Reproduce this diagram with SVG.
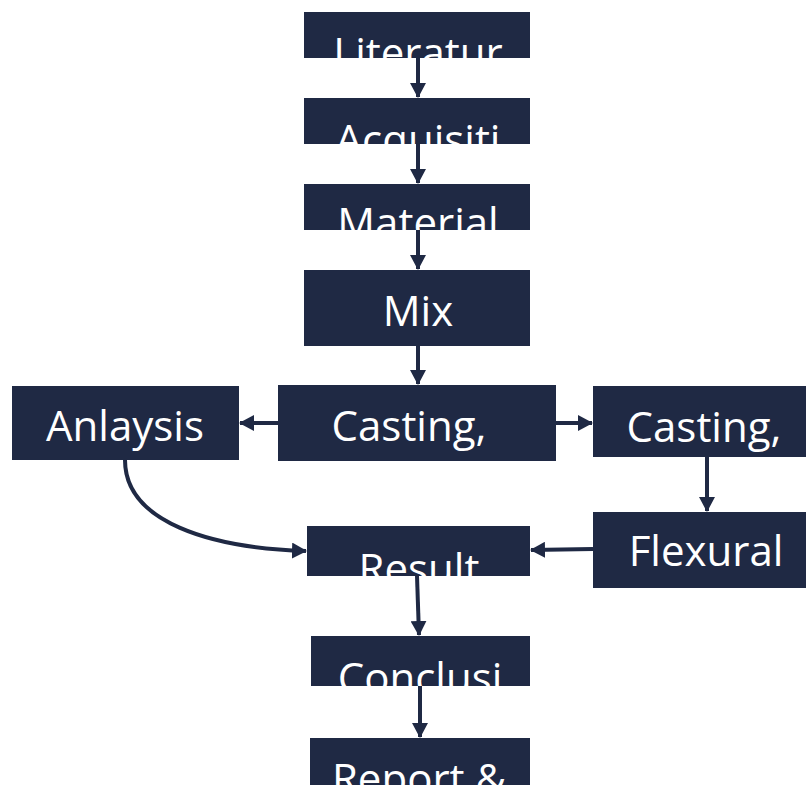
<svg xmlns="http://www.w3.org/2000/svg" width="806" height="785" viewBox="0 0 806 785">
<style>
.box{fill:#1f2944}
.t{fill:#ffffff;font-family:"Open Sans","Liberation Sans",sans-serif;font-size:42px;text-anchor:middle}
.c{fill:none;stroke:#1f2944;stroke-width:4}
</style>
<defs>
<marker id="ah" markerUnits="userSpaceOnUse" markerWidth="16" markerHeight="16" refX="14" refY="8" orient="auto">
<path d="M0,0 L15,8 L0,16 Z" fill="#1f2944"/>
</marker>
<clipPath id="c1"><rect x="304" y="12" width="226" height="46"/></clipPath>
<clipPath id="c2"><rect x="304" y="98" width="226" height="46"/></clipPath>
<clipPath id="c3"><rect x="304" y="184" width="226" height="46"/></clipPath>
<clipPath id="c9"><rect x="307" y="526" width="223" height="50"/></clipPath>
<clipPath id="c10"><rect x="311" y="636" width="219" height="50"/></clipPath>
<clipPath id="c11"><rect x="310" y="738" width="220" height="47"/></clipPath>
</defs>
<g id="connectors">
<path class="c" d="M418,58 L418,97" marker-end="url(#ah)"/>
<path class="c" d="M418,144 L418,183" marker-end="url(#ah)"/>
<path class="c" d="M418,230 L418,269" marker-end="url(#ah)"/>
<path class="c" d="M418,346 L418,384" marker-end="url(#ah)"/>
<path class="c" d="M278,423 L240,423" marker-end="url(#ah)"/>
<path class="c" d="M556,423 L592,423" marker-end="url(#ah)"/>
<path class="c" d="M707,457 L707,511" marker-end="url(#ah)"/>
<path class="c" d="M593,549 L531,550" marker-end="url(#ah)"/>
<path class="c" d="M417,576 L419,635" marker-end="url(#ah)"/>
<path class="c" d="M420,686 L420,737" marker-end="url(#ah)"/>
<path class="c" d="M125,460 C125,522 210,548 306,551" marker-end="url(#ah)"/>
</g>
<g id="literature">
<rect class="box" x="304" y="12" width="226" height="46"/>
<text class="t" x="418" y="68" clip-path="url(#c1)">Literatur</text>
</g>
<g id="acquisition">
<rect class="box" x="304" y="98" width="226" height="46"/>
<text class="t" x="418" y="155" clip-path="url(#c2)">Acquisiti</text>
</g>
<g id="material">
<rect class="box" x="304" y="184" width="226" height="46"/>
<text class="t" x="418" y="238" clip-path="url(#c3)">Material</text>
</g>
<g id="mix">
<rect class="box" x="304" y="270" width="226" height="76"/>
<text class="t" x="418" y="326">Mix</text>
</g>
<g id="casting-center">
<rect class="box" x="278" y="385" width="278" height="76"/>
<text class="t" x="409" y="441">Casting,</text>
</g>
<g id="analysis">
<rect class="box" x="12" y="386" width="227" height="74"/>
<text class="t" x="125" y="441">Anlaysis</text>
</g>
<g id="casting-right">
<rect class="box" x="593" y="386" width="213" height="71"/>
<text class="t" x="704" y="442">Casting,</text>
</g>
<g id="flexural">
<rect class="box" x="593" y="512" width="213" height="76"/>
<text class="t" x="706" y="566">Flexural</text>
</g>
<g id="result">
<rect class="box" x="307" y="526" width="223" height="50"/>
<text class="t" x="419" y="584" clip-path="url(#c9)">Result</text>
</g>
<g id="conclusion">
<rect class="box" x="311" y="636" width="219" height="50"/>
<text class="t" x="420" y="693" clip-path="url(#c10)">Conclusi</text>
</g>
<g id="report">
<rect class="box" x="310" y="738" width="220" height="47"/>
<text class="t" x="419" y="794" clip-path="url(#c11)">Report &amp;</text>
</g>
</svg>
